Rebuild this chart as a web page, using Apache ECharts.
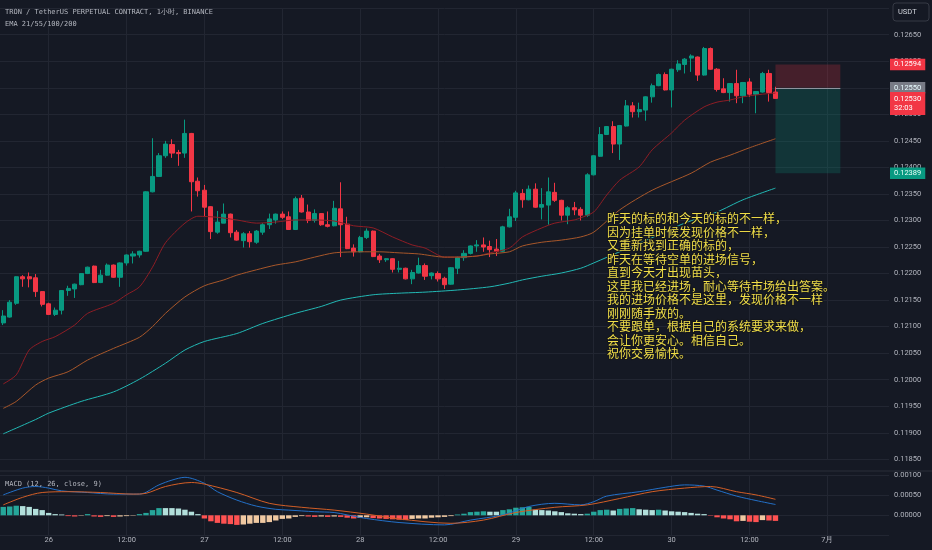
<!DOCTYPE html>
<html><head><meta charset="utf-8">
<script src="https://cdn.jsdelivr.net/npm/echarts/dist/echarts.min.js"></script>
<style>html,body{margin:0;padding:0;background:#151924;}#c{width:932px;height:550px;}</style>
</head><body><div id="c"></div>
<script>
// ---- time axis ----
const startDay = 25, startHour = 17, nSlots = 137;
const tickIndex = [7,19,31,43,55,67,79,91,103,115,127];
const tickLabels = ['26','12:00','27','12:00','28','12:00','29','12:00','30','12:00','7月'];

// ---- candles (1h) ----
const openP = [0.12107,0.12118,0.12144,0.12194,0.12194,0.12192,0.12166,0.12143,0.12123,0.12131,
0.12168,0.12171,0.12179,0.12200,0.12214,0.12183,0.12197,0.12216,0.12193,0.12220,
0.12233,0.12235,0.12242,0.12354,0.12383,0.12422,0.12443,0.12428,0.12427,0.12464,
0.12374,0.12357,0.12326,0.12278,0.12295,0.12312,0.12278,0.12262,0.12275,0.12259,
0.12278,0.12292,0.12301,0.12312,0.12307,0.12283,0.12342,0.12316,0.12300,0.12313,
0.12292,0.12290,0.12322,0.12293,0.12248,0.12241,0.12268,0.12280,0.12233,0.12226,
0.12228,0.12208,0.12210,0.12190,0.12201,0.12215,0.12196,0.12200,0.12191,0.12180,
0.12210,0.12230,0.12238,0.12252,0.12254,0.12251,0.12246,0.12242,0.12288,0.12306,
0.12351,0.12339,0.12359,0.12325,0.12329,0.12353,0.12338,0.12310,0.12324,0.12321,
0.12310,0.12386,0.12421,0.12462,0.12477,0.12444,0.12478,0.12516,0.12505,0.12508,
0.12533,0.12554,0.12575,0.12546,0.12584,0.12594,0.12606,0.12608,0.12574,0.12624,
0.12585,0.12548,0.12541,0.12558,0.12535,0.12561,0.12538,0.12542,0.12577,0.12542];
const closeP = [0.12120,0.12146,0.12194,0.12190,0.12190,0.12166,0.12142,0.12123,0.12131,0.12168,
0.12172,0.12180,0.12200,0.12212,0.12183,0.12197,0.12216,0.12193,0.12220,0.12235,
0.12237,0.12242,0.12354,0.12383,0.12422,0.12444,0.12427,0.12426,0.12464,0.12373,
0.12356,0.12325,0.12279,0.12297,0.12312,0.12277,0.12263,0.12275,0.12260,0.12280,
0.12292,0.12303,0.12312,0.12306,0.12283,0.12341,0.12316,0.12300,0.12313,0.12292,
0.12289,0.12323,0.12292,0.12247,0.12241,0.12268,0.12280,0.12232,0.12226,0.12228,
0.12208,0.12210,0.12190,0.12202,0.12215,0.12195,0.12201,0.12190,0.12179,0.12211,
0.12230,0.12238,0.12252,0.12254,0.12250,0.12245,0.12242,0.12288,0.12307,0.12352,
0.12339,0.12359,0.12325,0.12330,0.12354,0.12338,0.12310,0.12324,0.12320,0.12310,
0.12386,0.12422,0.12462,0.12477,0.12444,0.12479,0.12516,0.12505,0.12509,0.12533,
0.12554,0.12575,0.12546,0.12585,0.12595,0.12604,0.12610,0.12574,0.12624,0.12585,
0.12547,0.12541,0.12558,0.12535,0.12560,0.12538,0.12543,0.12577,0.12541,0.12530];
const lowP = [0.12103,0.12117,0.12141,0.12175,0.12174,0.12156,0.12138,0.12122,0.12120,0.12123,
0.12158,0.12154,0.12178,0.12199,0.12182,0.12182,0.12196,0.12192,0.12175,0.12215,
0.12219,0.12230,0.12241,0.12353,0.12382,0.12418,0.12418,0.12403,0.12418,0.12317,
0.12345,0.12308,0.12265,0.12275,0.12295,0.12268,0.12262,0.12249,0.12249,0.12256,
0.12273,0.12284,0.12294,0.12303,0.12283,0.12282,0.12315,0.12295,0.12296,0.12290,
0.12287,0.12289,0.12231,0.12246,0.12232,0.12240,0.12265,0.12231,0.12220,0.12222,
0.12202,0.12202,0.12189,0.12180,0.12200,0.12188,0.12189,0.12185,0.12171,0.12179,
0.12199,0.12224,0.12236,0.12241,0.12241,0.12231,0.12233,0.12241,0.12287,0.12299,
0.12324,0.12338,0.12324,0.12302,0.12292,0.12335,0.12300,0.12293,0.12310,0.12300,
0.12307,0.12385,0.12420,0.12461,0.12427,0.12414,0.12477,0.12494,0.12494,0.12488,
0.12522,0.12553,0.12545,0.12513,0.12580,0.12577,0.12580,0.12563,0.12573,0.12584,
0.12543,0.12540,0.12524,0.12521,0.12521,0.12533,0.12502,0.12541,0.12524,0.12530];
const highP = [0.12131,0.12150,0.12195,0.12197,0.12202,0.12199,0.12167,0.12145,0.12136,0.12169,
0.12177,0.12181,0.12201,0.12213,0.12215,0.12207,0.12219,0.12217,0.12221,0.12236,
0.12242,0.12243,0.12355,0.12455,0.12427,0.12450,0.12453,0.12433,0.12490,0.12465,
0.12381,0.12367,0.12327,0.12318,0.12332,0.12313,0.12282,0.12278,0.12280,0.12282,
0.12295,0.12313,0.12313,0.12317,0.12317,0.12345,0.12348,0.12330,0.12321,0.12314,
0.12317,0.12337,0.12372,0.12307,0.12255,0.12271,0.12285,0.12281,0.12237,0.12229,
0.12229,0.12224,0.12211,0.12207,0.12230,0.12219,0.12202,0.12204,0.12194,0.12212,
0.12232,0.12244,0.12253,0.12263,0.12268,0.12262,0.12265,0.12290,0.12322,0.12356,
0.12359,0.12366,0.12370,0.12361,0.12381,0.12371,0.12339,0.12327,0.12335,0.12325,
0.12389,0.12423,0.12476,0.12478,0.12487,0.12480,0.12527,0.12523,0.12522,0.12534,
0.12558,0.12577,0.12579,0.12586,0.12602,0.12606,0.12613,0.12609,0.12627,0.12626,
0.12587,0.12568,0.12559,0.12584,0.12561,0.12568,0.12544,0.12580,0.12584,0.12552];

// ---- EMA lines: [barIndex, value] ----
const ema21 = [[0,0.11992],[2,0.12009],[4,0.12056],[6,0.12072],[8,0.12081],[11,0.12103],[13,0.12125],[17,0.12144],[19,0.12160],[21,0.12175],[23,0.12212],[25,0.12258],[28,0.12295],[30,0.12308],[33,0.12306],[36,0.12301],[39,0.12295],[42,0.12297],[45,0.12301],[48,0.12301],[51,0.12299],[54,0.12290],[57,0.12286],[60,0.12269],[63,0.12254],[65,0.12248],[68,0.12231],[70,0.12231],[73,0.12233],[75,0.12239],[78,0.12248],[80,0.12269],[83,0.12286],[85,0.12295],[88,0.12301],[89,0.12305],[91,0.12316],[93,0.12348],[95,0.12376],[98,0.12401],[100,0.12433],[103,0.12465],[105,0.12489],[108,0.12514],[110,0.12523],[112,0.12527],[114,0.12533],[117,0.12538],[119,0.12540]];
const ema55 = [[0,0.11946],[2,0.11959],[5,0.11990],[7,0.12003],[10,0.12015],[13,0.12037],[17,0.12059],[21,0.12080],[23,0.12100],[25,0.12125],[28,0.12156],[31,0.12177],[34,0.12188],[36,0.12197],[39,0.12207],[42,0.12216],[45,0.12222],[48,0.12231],[51,0.12239],[55,0.12241],[58,0.12241],[61,0.12239],[64,0.12237],[68,0.12231],[70,0.12231],[73,0.12233],[75,0.12237],[78,0.12241],[80,0.12252],[83,0.12259],[86,0.12263],[89,0.12269],[91,0.12278],[95,0.12320],[100,0.12357],[106,0.12389],[109,0.12410],[112,0.12423],[115,0.12437],[119,0.12454]];
const ema100 = [[0,0.11898],[5,0.11925],[7,0.11937],[12,0.11959],[17,0.11977],[21,0.12001],[25,0.12031],[28,0.12056],[31,0.12072],[36,0.12087],[40,0.12106],[45,0.12125],[49,0.12138],[52,0.12150],[57,0.12160],[61,0.12163],[65,0.12165],[70,0.12169],[75,0.12175],[78,0.12182],[80,0.12188],[83,0.12195],[86,0.12201],[89,0.12210],[91,0.12220],[101,0.12273],[105,0.12295],[110,0.12316],[114,0.12339],[119,0.12361]];

// ---- MACD (12, 26, close, 9) ----
const macdHist = [0.00021,0.00022,0.00024,0.00023,0.00021,0.00016,0.00013,0.00006,0.00003,0.00002,
-0.00002,-0.00003,-0.00001,0.00003,-0.00003,-0.00004,-0.00002,-0.00004,-0.00003,-0.00002,
-0.00001,0.00003,0.00006,0.00013,0.00018,0.00018,0.00018,0.00017,0.00014,0.00009,
0.00003,-0.00008,-0.00015,-0.00019,-0.00021,-0.00022,-0.00024,-0.00023,-0.00021,-0.00019,
-0.00019,-0.00017,-0.00013,-0.00009,-0.00008,-0.00004,-0.00002,-0.00003,-0.00004,-0.00003,
-0.00004,-0.00003,-0.00004,-0.00006,-0.00008,-0.00006,-0.00005,-0.00007,-0.00008,-0.00009,
-0.00010,-0.00011,-0.00012,-0.00009,-0.00008,-0.00008,-0.00006,-0.00005,-0.00004,-0.00002,
0.00002,0.00004,0.00008,0.00009,0.00010,0.00009,0.00009,0.00013,0.00015,0.00019,
0.00020,0.00021,0.00014,0.00013,0.00012,0.00010,0.00008,0.00005,0.00004,0.00003,
0.00004,0.00009,0.00013,0.00014,0.00012,0.00016,0.00017,0.00018,0.00015,0.00014,
0.00013,0.00014,0.00012,0.00010,0.00009,0.00008,0.00006,0.00004,0.00003,-0.00001,
-0.00005,-0.00008,-0.00010,-0.00015,-0.00014,-0.00016,-0.00017,-0.00012,-0.00013,-0.00014];
const macdLine = [[0,0.00051],[3,0.00068],[5,0.00072],[7,0.00068],[9,0.00061],[13,0.00057],[17,0.00053],[21,0.00053],[24,0.00076],[26,0.00088],[28,0.00095],[31,0.00080],[33,0.00059],[36,0.00038],[39,0.00023],[42,0.00015],[44,0.00013],[48,0.00009],[51,0.00007],[53,0.00001],[56,-0.00008],[61,-0.00018],[68,-0.00024],[72,-0.00012],[77,0.00001],[81,0.00022],[85,0.00030],[89,0.00026],[91,0.00034],[93,0.00048],[98,0.00059],[102,0.00070],[105,0.00076],[108,0.00073],[110,0.00063],[113,0.00048],[116,0.00037],[119,0.00027]];
const signalLine = [[0,0.00026],[3,0.00045],[6,0.00057],[10,0.00059],[15,0.00057],[20,0.00053],[22,0.00055],[25,0.00072],[29,0.00082],[31,0.00078],[36,0.00057],[41,0.00030],[46,0.00020],[51,0.00013],[56,0.00003],[61,-0.00009],[69,-0.00020],[74,-0.00012],[79,0.00007],[85,0.00020],[90,0.00026],[95,0.00042],[100,0.00059],[105,0.00068],[109,0.00072],[113,0.00059],[116,0.00051],[119,0.00040]];

// ---- position tool & price tags ----
const lastPrice = 0.12530, countdown = '32:03';
const stopPrice = 0.12594, entryPrice = 0.12550, targetPrice = 0.12389;
const posStart = 119, posEnd = 129;

const titleLine1 = 'TRON / TetherUS PERPETUAL CONTRACT, 1小时, BINANCE';
const titleLine2 = 'EMA 21/55/100/200';
const macdTitle = 'MACD (12, 26, close, 9)';
const noteLines = ['昨天的标的和今天的标的不一样，','因为挂单时候发现价格不一样，','又重新找到正确的标的，','昨天在等待空单的进场信号，','直到今天才出现苗头，','这里我已经进场，耐心等待市场给出答案。','我的进场价格不是这里，发现价格不一样','刚刚随手放的。','不要跟单，根据自己的系统要求来做，','会让你更安心。相信自己。','祝你交易愉快。'];

// ---------------------------------------------------------
const categories = [];
for (let k = 0; k < nSlots; k++) {
  const h = startHour + k;
  let d = startDay + Math.floor(h / 24), m = 6;
  if (d > 30) { d -= 30; m = 7; }
  categories.push(m + '/' + d + ' ' + String(h % 24).padStart(2, '0') + ':00');
}
const isTick = i => tickIndex.indexOf(i) >= 0;
const candleData = openP.map((o, i) => [o, closeP[i], lowP[i], highP[i]]);
const histData = macdHist.map((v, i) => {
  const p = i > 0 ? macdHist[i - 1] : 0;
  let col;
  if (v >= 0) col = v > p ? '#26a69a' : '#b2dfdb';
  else col = v < p ? '#ff5252' : '#f0c9a2';
  return { value: v, itemStyle: { color: col } };
});

const FONT = 'Roboto, "Noto Sans", sans-serif';
const MONO = '"DejaVu Sans Mono", "Liberation Mono", monospace';
const gridColor = '#222632';
const txtColor = '#b2b5be';
const GRID_RIGHT = 43;

const chart = echarts.init(document.getElementById('c'));
chart.setOption({
  animation: false,
  backgroundColor: '#151924',
  grid: [
    { left: 0, right: GRID_RIGHT, top: 8.2, height: 451.1 },
    { left: 0, right: GRID_RIGHT, top: 475.3, height: 60 }
  ],
  xAxis: [
    { type: 'category', data: categories, gridIndex: 0,
      axisLine: { show: false }, axisTick: { show: false }, axisLabel: { show: false },
      splitLine: { show: true, alignWithLabel: true, interval: (i) => isTick(i), lineStyle: { color: gridColor } } },
    { type: 'category', data: categories, gridIndex: 1,
      axisLine: { show: false }, axisTick: { show: false },
      axisLabel: { show: true, interval: (i) => isTick(i), formatter: (v, i) => tickLabels[tickIndex.indexOf(i)],
        color: txtColor, fontSize: 7.5, fontFamily: FONT, margin: 1 },
      splitLine: { show: true, alignWithLabel: true, interval: (i) => isTick(i), lineStyle: { color: gridColor } } }
  ],
  yAxis: [
    { type: 'value', gridIndex: 0, position: 'right', min: 0.1185, max: 0.127, interval: 0.0005,
      axisLine: { show: false }, axisTick: { show: false },
      axisLabel: { color: txtColor, fontSize: 7.5, fontFamily: FONT, margin: 5, showMaxLabel: false,
        formatter: v => v.toFixed(5) },
      splitLine: { lineStyle: { color: gridColor } } },
    { type: 'value', gridIndex: 1, position: 'right', min: -0.0005, max: 0.001, interval: 0.0005,
      axisLine: { show: false }, axisTick: { show: false },
      axisLabel: { color: txtColor, fontSize: 7.5, fontFamily: FONT, margin: 5, showMinLabel: false,
        formatter: v => (Math.abs(v) < 1e-9 ? 0 : v).toFixed(5) },
      splitLine: { lineStyle: { color: gridColor } } }
  ],
  series: [
    { type: 'candlestick', xAxisIndex: 0, yAxisIndex: 0, data: candleData, barWidth: 4.6,
      itemStyle: { color: '#089981', color0: '#f23645', borderColor: '#089981', borderColor0: '#f23645', borderWidth: 1 },
      markArea: { silent: true, data: [
        [{ xAxis: posStart, yAxis: stopPrice, itemStyle: { color: 'rgba(242,54,69,0.22)' } }, { xAxis: posEnd, yAxis: entryPrice }],
        [{ xAxis: posStart, yAxis: entryPrice, itemStyle: { color: 'rgba(8,153,129,0.22)' } }, { xAxis: posEnd, yAxis: targetPrice }]
      ] },
      markLine: { silent: true, symbol: ['none', 'none'], animation: false, label: { show: false }, data: [
        [{ coord: [posStart, entryPrice], lineStyle: { color: '#8f939e', width: 1, type: 'solid' } },
         { coord: [posEnd, entryPrice] }],
        { yAxis: lastPrice, lineStyle: { color: '#f23645', type: 'dotted', width: 1 } }
      ] }
    },
    { type: 'line', name: 'EMA21', xAxisIndex: 0, yAxisIndex: 0, data: ema21, showSymbol: false, smooth: 0.25,
      lineStyle: { color: '#8e1d25', width: 1 }, z: 3 },
    { type: 'line', name: 'EMA55', xAxisIndex: 0, yAxisIndex: 0, data: ema55, showSymbol: false, smooth: 0.25,
      lineStyle: { color: '#a8572a', width: 1 }, z: 3 },
    { type: 'line', name: 'EMA100', xAxisIndex: 0, yAxisIndex: 0, data: ema100, showSymbol: false, smooth: 0.25,
      lineStyle: { color: '#22b8b4', width: 1 }, z: 3 },
    { type: 'bar', xAxisIndex: 1, yAxisIndex: 1, data: histData, barWidth: 5.4 },
    { type: 'line', xAxisIndex: 1, yAxisIndex: 1, data: macdLine, showSymbol: false, smooth: 0.3,
      lineStyle: { color: '#2370c8', width: 1 }, z: 3 },
    { type: 'line', xAxisIndex: 1, yAxisIndex: 1, data: signalLine, showSymbol: false, smooth: 0.3,
      lineStyle: { color: '#d25e26', width: 1 }, z: 3 }
  ]
});

// ---- price tags on the price scale, placed through the axis scale ----
const tagX = chart.getWidth() - GRID_RIGHT + 1;
const yOf = p => chart.convertToPixel({ yAxisIndex: 0 }, p);
const tagStyle = (txt, bg, fg) => ({ text: txt, fill: fg, backgroundColor: bg, padding: [2, 4, 1, 4],
  font: '7.5px ' + FONT, lineHeight: 8.5, verticalAlign: 'middle' });

const graphics = [
  { type: 'line', shape: { x1: 0, y1: 471, x2: 932, y2: 471 }, style: { stroke: '#2a2e39', lineWidth: 1 }, z: 10 },
  { type: 'text', left: 5, top: 9, style: { text: titleLine1, fill: txtColor, font: '7px ' + MONO }, z: 10 },
  { type: 'text', left: 5, top: 20.5, style: { text: titleLine2, fill: txtColor, font: '7px ' + MONO }, z: 10 },
  { type: 'text', left: 5, top: 481, style: { text: macdTitle, fill: txtColor, font: '7px ' + MONO }, z: 10 },
  { type: 'rect', shape: { x: 893, y: 3, width: 36, height: 18, r: 3 }, style: { fill: '#151924', stroke: '#363a45', lineWidth: 1 }, z: 10 },
  { type: 'text', x: 898, y: 12, style: { text: 'USDT', fill: '#d1d4dc', font: '7.5px ' + FONT, verticalAlign: 'middle' }, z: 11 },
  { type: 'text', left: 606, top: 211.5, z: 12,
    style: { text: noteLines.join('\n'), fill: '#f0de48', font: '12px "Noto Sans CJK SC"', lineHeight: 13.5,
             stroke: '#14161c', lineWidth: 2 } },
  { type: 'text', x: tagX, y: yOf(stopPrice), z: 20, style: tagStyle(stopPrice.toFixed(5), '#f23645', '#ffffff') },
  { type: 'text', x: tagX, y: yOf(entryPrice), z: 20, style: tagStyle(entryPrice.toFixed(5), '#787b86', '#e8fbff') },
  { type: 'text', x: tagX, y: yOf(targetPrice), z: 20, style: tagStyle(targetPrice.toFixed(5), '#089981', '#e8fff8') },
  { type: 'text', x: tagX, y: yOf(lastPrice) - 6.5, z: 21,
    style: { text: lastPrice.toFixed(5) + '\n' + countdown, fill: '#ffffff', backgroundColor: '#f23645',
             padding: [2, 4, 2, 4], font: '7.5px ' + FONT, lineHeight: 9.5, verticalAlign: 'top' } }
];
chart.setOption({ graphic: graphics });
</script>
</body></html>
